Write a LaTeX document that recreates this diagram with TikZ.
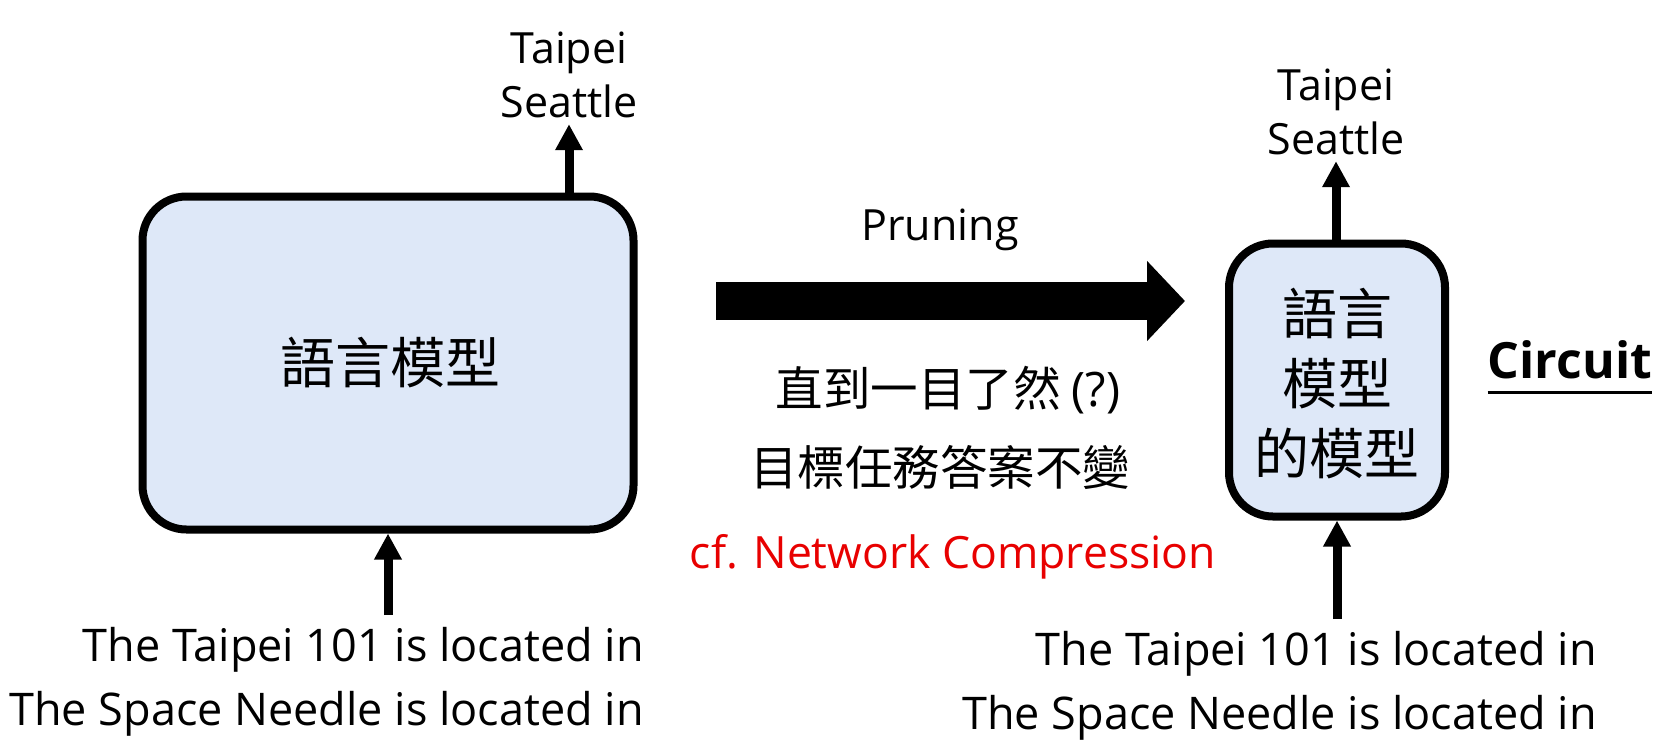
\documentclass[tikz,border=0pt]{standalone}
\usepackage{fontspec}
\setmainfont{Open Sans}
\newfontfamily\cjk{Noto Sans CJK TC}
\usetikzlibrary{arrows.meta}
\definecolor{boxfill}{RGB}{222,232,248}
\definecolor{cfred}{RGB}{232,0,0}
\begin{document}
\begin{tikzpicture}[x=1pt, y=-1pt, >={Triangle[width=26pt,length=26pt]},
  model/.style={draw, line width=8pt, rounded corners=44pt, fill=boxfill, inner sep=0pt},
  word/.style={font=\fontsize{43}{54}\selectfont, align=center, inner sep=0pt},
  prompt/.style={font=\fontsize{45}{64}\selectfont, align=right, inner sep=0pt},
  hanzi/.style={font=\cjk\fontsize{55}{70}\selectfont, align=center, inner sep=0pt},
  feed/.style={->, line width=9pt}]
\useasboundingbox (0,0) rectangle (1675,745);
% original model
\node[model, minimum width=491pt, minimum height=333pt] (lm) at (388,363) {};
\node[hanzi] (lmtext) at (390,363) {語言模型};
\node[word] (outL) at (569,75) {Taipei\\Seattle};
\node[prompt, anchor=north east] (inL) at (644,627) {The Taipei 101 is located in\\The Space Needle is located in};
\draw[feed] (outL.south |- lm.north) -- ([yshift=-6pt]outL.south);
\draw[feed] ([yshift=12pt]inL.north -| lm.south) -- (lm.south);
% pruning step
\coordinate (pa) at (716,301);
\coordinate (pb) at (1185,301);
\draw[line width=38pt, -{Triangle[width=78pt,length=38pt]}] (pa) -- (pb);
\node[word] (prune) at (940,230) {Pruning};
\node[font=\cjk\fontsize{47.5}{60}\selectfont, inner sep=0pt] (goal1) at (948,390) {直到一目了然 {\rmfamily(?)}};
\node[font=\cjk\fontsize{47.5}{60}\selectfont, inner sep=0pt] (goal2) at (940,467) {目標任務答案不變};
\node[word, font=\fontsize{44.5}{54}\selectfont, text=cfred] (cf) at (953,557) {cf. Network Compression};
% pruned model
\node[model, minimum width=216pt, minimum height=273pt] (sub) at (1337,380) {};
\node[hanzi] (subtext) at (1337,384) {語言\\模型\\的模型};
\node[word] (outR) at (1336,112) {Taipei\\Seattle};
\node[prompt, anchor=north east] (inR) at (1597,631) {The Taipei 101 is located in\\The Space Needle is located in};
\draw[feed] (sub.north -| outR.south) -- ([yshift=-6pt]outR.south);
\draw[feed] ([yshift=12pt]inR.north -| sub.south) -- (sub.south);
\node[font=\bfseries\fontsize{50}{54}\selectfont, inner sep=0pt] (circ) at (1570,360) {Circuit};
\draw[line width=2.5pt] ([yshift=-13pt]circ.south west) -- ([yshift=-13pt]circ.south east);
\end{tikzpicture}
\end{document}
